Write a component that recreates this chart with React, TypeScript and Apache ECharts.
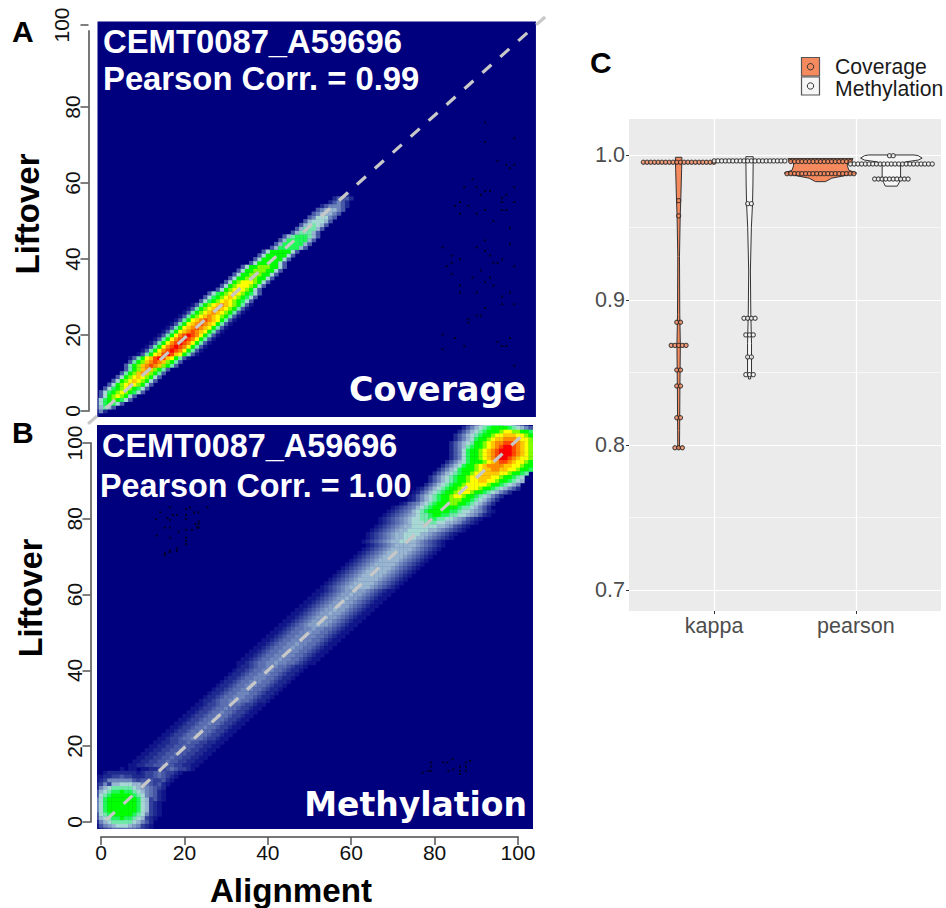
import React, { useEffect, useRef } from "react";
import * as echarts from "echarts";

const levelKeys = "0g1h2i3j456789abcde";
const levelColors = ["#00007f","#10158a","#1f2a90","#33419b","#4658a6","#5b6fb1","#6f86bc","#849ec6","#98b6d0","#a8d8d4","#70e8a8","#20f858","#00ff00","#80ff00","#ffff00","#ffc800","#ff8c00","#ff4800","#ff0000"];

const sym = (side: string, mid: string) => side + mid + side.split("").reverse().join("");

// y, first x, density levels
const covRows: [number, number, string][] = [
[-1,-9,sym("00000000","g")],[0,-8,sym("00000001","3")],[1,-7,sym("00000024","6")],[2,-6,sym("00000257","8")],
[3,-5,sym("00002578","9")],[4,-4,sym("00002589","a")],[5,-3,sym("00025789","a")],[6,-2,sym("00025789","a")],
[7,-1,sym("0002589a","b")],[8,0,sym("0002589a","b")],[9,1,sym("0002589a","b")],[10,2,sym("0002689b","c")],
[11,3,sym("0002689b","c")],[12,4,sym("002689bc","d")],[13,5,sym("002689bc","d")],[14,6,sym("0g268abd","e")],
[15,8,sym("0g268abd","e")],[16,9,sym("0g268acd","e")],[17,10,sym("0g268acd","e")],[18,11,sym("0g268acd","e")],
[19,12,sym("0g268acd","e")],[20,13,sym("0g268acd","e")],[21,14,sym("0g268abc","d")],[22,15,sym("0g268abc","d")],
[23,16,sym("0g268abc","d")],[24,17,sym("0g268abc","d")],[25,18,sym("0g2689ab","c")],[26,19,sym("0g2689ab","c")],
[27,20,sym("0g2689ab","c")],[28,21,sym("0g2689ab","c")],[29,22,sym("0025789a","b")],[30,23,sym("0025789a","b")],
[31,24,sym("0025789a","b")],[32,25,sym("0002589a","a")],[33,26,sym("0002589a","a")],[34,27,sym("0002589a","a")],
[35,28,sym("00025889","9")],[36,29,sym("00025889","9")],[37,30,sym("00025889","9")],[38,31,sym("00025889","9")],
[39,32,sym("00002588","8")],[40,33,sym("00002588","8")],[41,34,sym("00002588","8")],[42,35,sym("00002588","8")],
[43,37,sym("00002477","7")],[44,38,sym("00002477","7")],[45,39,sym("00002477","7")],[46,40,sym("00002467","7")],
[47,41,sym("00000246","6")],[48,42,sym("00000246","6")],[49,43,sym("00000245","6")],[50,44,sym("00000245","5")],
[51,45,sym("00000235","5")],[52,46,sym("00000234","4")],[53,47,sym("00000234","4")],[54,48,sym("00000123","3")],
[55,49,sym("00000012","3")],[56,50,sym("00000012","2")],[57,51,sym("00000000","1")],
];

const tailA = "0g1h2i3j44" + "4" + "44j3i2h1g0";
const tailB = "0gg1h2i3jj" + "4" + "jj3i2h1gg0";
const tailC = "0gg1h2ii33" + "j" + "33ii2h1gg0";
const tailD = "00g11h2ii3" + "3" + "3ii2h11g00";
const tailE = "00gg1hh2ii" + "3" + "ii2hh1gg00";
const tailF = "00gg11hh22" + "i" + "22hh11gg00";

const methRows: [number, number, string][] = [
[105,88,"1234556665543210"],[104,87,"12345678888765432"],[103,86,"12345678889aa998876"],
[102,85,"1234567889aabbbaa9888"],[101,85,"123457889abbcccbaa98"],[100,84,"123456889abccdddcba9"],
[99,84,"123467889abcdeedcba9"],[98,84,"12357889abcdeeedcba9"],[97,84,"12357889abcdeeedcba9"],
[96,84,"12357889abcdeedcbaa9"],[95,83,"1234578889abcddcbaa98"],[94,82,"123457889abccccbbaa988"],
[93,81,"1234578889abbccbbaa9887"],[92,80,"1234567889aabbbbaa98876"],[91,79,"1234567889aabbbaa988765"],
[90,79,"1234567889aabbaa9887654"],[89,78,"1234567889aaaaa98876543"],
[88,76,"g123456788 9aaaa98876 54321".replace(/ /g,"")],[87,75,"g1234567889aaa98876 54321".replace(/ /g,"")],
[86,74,"g1234567889aa9887654321"],[85,74,"g123456788999887654321"],
[84,72,"g12i3456788899887654321"],[83,70,"g1h2i34567888888766 54321".replace(/ /g,"")],[82,69,"g1h2i3 4567888887765 54j321g".replace(/ /g,"")],
[81,68,"g1h2i3j4566788776655 4j321g".replace(/ /g,"")],[80,66,"0g1h2i3j455667766 554j32h1g".replace(/ /g,"")],
[79,66,"0g1h2i3j4555666554 4j32h1g".replace(/ /g,"")],[78,65,"0g1h2i3j44555555 44j32h1g".replace(/ /g,"")],
[77,64,"0g1h2i3j4455555 44j3i2h1g0".replace(/ /g,"")],[76,63,"0g1h2i3j445555 44j3i2h1g0".replace(/ /g,"")],
[75,63,"0g1h2i3j44555 44j3i2h1g0".replace(/ /g,"")],[74,62,"0g1h2i3j445544j3i2h1g0"],
[73,63,tailA],[72,62,tailA],[71,61,tailA],[70,60,tailA],[69,59,tailA],[68,58,tailA],[67,57,tailA],[66,56,tailA],
[65,55,tailA],[64,54,tailA],[63,53,tailA],[62,52,tailA],
[61,51,tailB],[60,50,tailB],[59,49,tailB],[58,48,tailB],[57,47,tailB],[56,46,tailB],[55,45,tailB],[54,44,tailB],[53,43,tailB],[52,42,tailB],
[51,41,tailC],[50,40,tailC],[49,39,tailC],[48,38,tailC],[47,37,tailC],[46,36,tailC],[45,35,tailC],[44,34,tailC],[43,33,tailC],[42,32,tailC],
[41,31,tailD],[40,30,tailD],[39,29,tailD],[38,28,tailD],[37,27,tailD],[36,26,tailD],[35,25,tailD],[34,24,tailD],[33,23,tailD],[32,22,tailD],
[31,21,tailE],[30,20,tailE],[29,19,tailE],[28,18,tailE],[27,17,tailE],[26,16,tailE],[25,15,tailE],[24,14,tailE],[23,13,tailE],[22,12,tailE],
[21,11,tailF],[20,10,tailF],[19,9,tailF],[18,8,tailF],[17,7,tailF],[16,6,tailF],[15,5,tailF],
[14,4,"0g0gg0gg11hh2i2hh1g"],[13,1,"g1111111g1hh2i2hh1g"],[12,-1,"gg11hh2hh111hh2i2h1g"],[11,-1,"g1h3333332h222hh21g"],[10,-1,"1h3h44555443i2h21g"],
[9,-1,"13456666654j3i2h1"],[8,-1,"2456778776543i21g"],[7,-1,"2567888887653i21g"],[6,-1,"3578888888754h21g"],
[5,-1,"3578888888754h1g"],[4,-1,"3578888888754h1g"],[3,-1,"3578888888754h1g"],[2,-1,"2567888887653h1g"],
[1,-1,"245677877654h1g"],[0,-1,"13456666654321"],[-1,-1,"g23j45554j3h1g"],[-2,-1,"g1h2iiiiii2h1g"],
];

const speckleA: [number, number][] = [[92.1,75.9],[99.1,71.8],[101.3,71.8],[92.1,70.8],[101.3,67],[95.1,65.8],[97.2,64.8],[99.1,64.8],[98.1,63.9],[89.1,61],[87.1,58.9],[90.1,58.9],[99.1,58.9],[92.1,57.9],[93.3,57.9],[91.1,56.9],[97.2,56.9],[101.3,56.9],[96.2,56],[101.3,56],[86.1,55],[96.2,55],[99.1,55],[84.9,54],[88.1,54],[100.3,54],[92.1,52.9],[96.2,52.9],[97.2,52.9],[86.1,51.9],[90.1,51.9],[94.1,50],[101.3,50],[101.3,49],[98.1,48.1],[101.3,47],[92.1,44.9],[81.9,43.1],[90.1,43.1],[98.1,44],[92.1,42.1],[84.1,40.9],[93.3,40.9],[86.1,39.9],[96.2,39.9],[84.1,39],[94.1,39],[95.1,39],[82.9,38.1],[99.1,38.1],[91.1,37],[84.1,36.1],[89.1,35.1],[93.3,35.1],[92.1,33.9],[86.1,33],[94.1,33],[86.1,31.2],[90.1,31.2],[98.1,31.2],[96.2,30.1],[96.2,28.1],[99.1,28.1],[92.1,27.1],[90.1,25.1],[91.1,25.1],[88.1,24.2],[88.1,23.3],[81.9,20.1],[84.9,19.2],[98.1,19.2],[95.1,18.2],[87.1,17.1],[96.2,17.1],[97.2,17.1],[81.9,16.3],[100.3,16.3],[100.3,15],[101.3,13],[99.1,11.9]];
const speckleB: [number, number][] = [[16.5,83],[20.4,82.6],[21.4,83],[25.5,83],[14.2,81.7],[17.2,81],[18.2,81],[20.4,81],[22.3,81.7],[23.4,81.7],[13.2,79.9],[15.9,80.2],[16.5,79.7],[20.4,79.9],[23.4,79.3],[22.6,78.6],[23.4,78.6],[15.3,77.7],[16.5,77.7],[23,77.7],[23.4,77.7],[20.4,77.1],[21.8,77.1],[18.6,76.6],[13.4,75.6],[16.5,75],[20.4,75],[20.4,74.1],[20.4,73.3],[18.2,72.2],[18.2,71.5],[16.5,71.6],[16.5,71.2],[15.3,70.9],[15.3,70.4],[84.3,16.6],[88.5,16.1],[79.1,15.7],[82.1,15.7],[83.1,15.7],[87.5,15.7],[79.1,14.6],[86.1,14.6],[87.5,14.6],[78.5,13.5],[79.1,13.5],[83.3,13.5],[84.5,13.9],[86.1,13.5],[87.5,13.5],[77.1,13],[86.1,12.7]];

const diagA = [-3.1, -3.4, 106.5, 103.7];
const diagB = [1.2, 0.5, 101, 102];
const panelA = [-0.84, -1.58, 104.3, 102.5];
const panelB = [-0.96, -1.85, 103.6, 104.75];

const axisTicksA = [0, 20, 40, 60, 80];
const violinCategories = ["kappa", "pearson"];
const majorTicksC = [0.7, 0.8, 0.9, 1.0];
const minorTicksC = [0.75, 0.85, 0.95];

// value, half width of the violin
const kappaCovShape = [[0.9984,0.023],[0.99,0.021],[0.9685,0.015],[0.958,0.011],[0.93,0.006],[0.89,0.008],[0.8687,0.012],[0.84,0.009],[0.81,0.007],[0.7975,0.006]];
const kappaMethShape = [[0.9988,0.026],[0.98,0.024],[0.9664,0.021],[0.95,0.013],[0.92,0.006],[0.89,0.009],[0.87,0.014],[0.85,0.014],[0.8455,0.007]];
const pearsonCovShape = [[0.9975,0.23],[0.9958,0.22],[0.9945,0.19],[0.9925,0.19],[0.9895,0.2],[0.9875,0.255],[0.9855,0.16],[0.984,0.08],[0.9816,0.035]];
const pearsonMethShape = [[1.0,0.16],[0.9995,0.19],[0.9978,0.217],[0.9965,0.19],[0.9952,0.1],[0.9938,0.065],[0.984,0.065],[0.981,0.055],[0.9785,0.042]];

// value, number of stacked dots
const kappaCovDots = [[0.995,20],[0.9685,1],[0.958,1],[0.8846,2],[0.8687,5],[0.8517,2],[0.8407,2],[0.8188,2],[0.7981,3]];
const kappaMethDots = [[0.9959,20],[0.9664,2],[0.8874,4],[0.8759,3],[0.8607,2],[0.8485,3]];
const pearsonCovDots = [[0.9955,17],[0.9871,19]];
const pearsonMethDots = [[0.9995,2],[0.9938,23],[0.9834,10]];

const coverColor = "#f58a5f";
const methColor = "#f6f6f6";
const FONT = "Liberation Sans";
const dotStep = 0.0262;

function cells(rows: [number, number, string][]) {
  const out: number[][] = [];
  rows.forEach(([y, x0, s]) => {
    for (let i = 0; i < s.length; i++) {
      const l = levelKeys.indexOf(s[i]);
      if (l > 0) out.push([x0 + i, y, l]);
    }
  });
  return out;
}

function stack(center: number, bins: number[][]) {
  const out: number[][] = [];
  bins.forEach(([v, n]) => {
    for (let i = 0; i < n; i++) out.push([center + (i - (n - 1) / 2) * dotStep, v]);
  });
  return out;
}

function densitySeries(rows: [number, number, string][], panel: number[], idx: number) {
  const clip = (api: any, r: any) => {
    const a = api.coord([panel[0], panel[3]]);
    const b = api.coord([panel[2], panel[1]]);
    return echarts.graphic.clipRectByRect(r, { x: a[0], y: a[1], width: b[0] - a[0], height: b[1] - a[1] });
  };
  return [
    {
      type: "custom", xAxisIndex: idx, yAxisIndex: idx, silent: true, z: 1,
      data: [panel],
      renderItem: (_: any, api: any) => {
        const a = api.coord([api.value(0), api.value(3)]);
        const b = api.coord([api.value(2), api.value(1)]);
        return { type: "rect", shape: { x: a[0], y: a[1], width: b[0] - a[0], height: b[1] - a[1] }, style: { fill: levelColors[0] } };
      },
    },
    {
      type: "custom", xAxisIndex: idx, yAxisIndex: idx, silent: true, z: 2,
      data: cells(rows),
      renderItem: (_: any, api: any) => {
        const x = api.value(0), y = api.value(1);
        const a = api.coord([x - 0.5, y + 0.5]);
        const b = api.coord([x + 0.5, y - 0.5]);
        const r = clip(api, { x: a[0], y: a[1], width: b[0] - a[0] + 0.4, height: b[1] - a[1] + 0.4 });
        if (!r) return null;
        return { type: "rect", shape: r, style: { fill: levelColors[api.value(2)] } };
      },
    },
  ];
}

function violinSeries(center: number, shape: number[][], fill: string) {
  return {
    type: "custom", xAxisIndex: 2, yAxisIndex: 2, silent: true, z: 3,
    data: shape,
    renderItem: (p: any, api: any) => {
      if (p.dataIndex !== 0) return null;
      const pts = shape.map(([v, w]) => api.coord([center - w, v]))
        .concat(shape.slice().reverse().map(([v, w]) => api.coord([center + w, v])));
      return { type: "polygon", shape: { points: pts }, style: { fill, stroke: "#333", lineWidth: 1 } };
    },
  };
}

function dots(data: number[][], fill: string) {
  return {
    type: "scatter", xAxisIndex: 2, yAxisIndex: 2, silent: true, z: 4, symbolSize: 4.2, data,
    itemStyle: { color: fill, borderColor: "#222", borderWidth: 1.1 },
  };
}

function diagSeries(seg: number[], idx: number) {
  return {
    type: "custom", xAxisIndex: idx, yAxisIndex: idx, silent: true, z: 5,
    data: [seg],
    renderItem: (_: any, api: any) => {
      const a = api.coord([api.value(0), api.value(1)]);
      const b = api.coord([api.value(2), api.value(3)]);
      return { type: "line", shape: { x1: a[0], y1: a[1], x2: b[0], y2: b[1] }, style: { stroke: "#c8c8c8", lineWidth: 3.2, lineDash: [12, 12] } };
    },
  };
}

function speckles(data: [number, number][], idx: number) {
  return {
    type: "scatter", xAxisIndex: idx, yAxisIndex: idx, symbol: "rect", symbolSize: 2, data, silent: true, z: 4,
    itemStyle: { color: "#000010" },
  };
}

const txt = (text: string, x: number, y: number, size: number, extra: any = {}) => ({
  type: "text", x, y, z: 100, silent: true,
  style: { text, fontSize: size, fontFamily: FONT, fontWeight: "bold", fill: "#000", align: "left", verticalAlign: "middle", ...extra.style },
  ...(extra.rotation ? { rotation: extra.rotation } : {}),
});

export default function App() {
  const ref = useRef<HTMLDivElement>(null);
  useEffect(() => {
    const chart = echarts.init(ref.current!, null, { renderer: "svg" });
    const leftAxis = (grid: number, offset: number, ticks?: number[]) => ({
      type: "value", gridIndex: grid, min: 0, max: 100, interval: 20, offset,
      axisLine: { show: true, onZero: false, lineStyle: { color: "#777", width: 2 } },
      axisTick: { show: true, length: 8, lineStyle: { color: "#555", width: 1.5 }, ...(ticks ? { customValues: ticks } : {}) },
      axisLabel: { rotate: 90, fontSize: 21, fontFamily: FONT, color: "#111", margin: 6, ...(ticks ? { customValues: ticks } : {}) },
      splitLine: { show: false },
    });
    const C = (extra: any) => ({
      type: "value", gridIndex: 2, min: 0.6855, max: 1.0248,
      axisLine: { show: false, onZero: false }, ...extra,
    });
    chart.setOption({
      animation: false,
      grid: [
        { left: 101, top: 31, width: 417, height: 380 },
        { left: 101, top: 443, width: 417, height: 379 },
        { left: 629, top: 119, width: 312, height: 492, backgroundColor: "#ebebeb", show: true, borderWidth: 0 },
      ],
      xAxis: [
        { type: "value", gridIndex: 0, min: 0, max: 100, show: false },
        {
          type: "value", gridIndex: 1, min: 0, max: 100, interval: 20, offset: 15,
          axisLine: { show: true, onZero: false, lineStyle: { color: "#777", width: 2 } },
          axisTick: { length: 8, lineStyle: { color: "#555", width: 1.5 } },
          axisLabel: { fontSize: 21, fontFamily: FONT, color: "#111", margin: 5 },
          splitLine: { show: false },
        },
        {
          type: "value", gridIndex: 2, min: -0.6, max: 1.6,
          axisLine: { show: false, onZero: false },
          axisTick: { show: true, length: 3, lineStyle: { color: "#333" }, customValues: [0, 1] },
          axisLabel: {
            customValues: [0, 1], fontSize: 21.5, fontFamily: FONT, color: "#4d4d4d", margin: 4,
            formatter: (v: number) => violinCategories[Math.round(v)],
          },
          splitLine: { show: true, lineStyle: { color: "#fff", width: 1.2 } },
        },
      ],
      yAxis: [
        leftAxis(0, 12.5, axisTicksA),
        leftAxis(1, 10.5),
        C({
          axisTick: { show: true, length: 3, lineStyle: { color: "#333" }, customValues: majorTicksC },
          axisLabel: { customValues: majorTicksC, fontSize: 21.5, fontFamily: FONT, color: "#4d4d4d", margin: 4, formatter: (v: number) => v.toFixed(1) },
          splitLine: { show: true, lineStyle: { color: "#fff", width: 1.2 } },
        }),
        C({
          axisTick: { show: false, customValues: minorTicksC },
          axisLabel: { show: false, customValues: minorTicksC },
          splitLine: { show: true, lineStyle: { color: "#fff", width: 0.6 } },
        }),
      ],
      series: [
        ...densitySeries(covRows, panelA, 0),
        speckles(speckleA, 0),
        diagSeries(diagA, 0),
        ...densitySeries(methRows, panelB, 1),
        speckles(speckleB, 1),
        diagSeries(diagB, 1),
        violinSeries(-0.25, kappaCovShape, coverColor),
        violinSeries(0.25, kappaMethShape, methColor),
        violinSeries(0.75, pearsonCovShape, coverColor),
        violinSeries(1.25, pearsonMethShape, methColor),
        dots(stack(-0.25, kappaCovDots), coverColor),
        dots(stack(0.25, kappaMethDots), methColor),
        dots(stack(0.75, pearsonCovDots), coverColor),
        dots(stack(1.25, pearsonMethDots), methColor),
      ],
      graphic: [
        txt("A", 12, 31, 30),
        txt("B", 12, 432, 30),
        txt("C", 590, 62, 30),
        txt("CEMT0087_A59696", 103, 41, 32.8, { style: { fill: "#fff" } }),
        txt("Pearson Corr. = 0.99", 103, 78, 32.8, { style: { fill: "#fff" } }),
        txt("CEMT0087_A59696", 102, 446, 32.4, { style: { fill: "#fff" } }),
        txt("Pearson Corr. = 1.00", 100, 486, 32.3, { style: { fill: "#fff" } }),
        txt("Coverage", 526, 389, 33.3, { style: { fill: "#fff", fontFamily: "DejaVu Sans", align: "right" } }),
        txt("Methylation", 527, 804, 33, { style: { fill: "#fff", fontFamily: "DejaVu Sans", align: "right" } }),
        txt("Liftover", 27, 214, 33, { rotation: Math.PI / 2, style: { align: "center" } }),
        txt("Liftover", 31, 598, 32.3, { rotation: Math.PI / 2, style: { align: "center" } }),
        txt("Alignment", 291, 890.5, 33.2, { style: { align: "center" } }),
        { type: "line", z: 100, silent: true, shape: { x1: 80.5, y1: 25, x2: 88.5, y2: 25 }, style: { stroke: "#555", lineWidth: 1.5 } },
        txt("100", 61.5, 25, 21, { rotation: Math.PI / 2, style: { align: "center", fontWeight: "normal", fill: "#111" } }),
        { type: "rect", z: 100, silent: true, shape: { x: 801.5, y: 57.5, width: 18, height: 18.5 }, style: { fill: coverColor, stroke: "#555", lineWidth: 1.2 } },
        { type: "circle", z: 101, silent: true, shape: { cx: 810.5, cy: 66.7, r: 3.2 }, style: { fill: coverColor, stroke: "#333", lineWidth: 1 } },
        { type: "rect", z: 100, silent: true, shape: { x: 801.5, y: 77, width: 18, height: 18 }, style: { fill: methColor, stroke: "#555", lineWidth: 1.2 } },
        { type: "circle", z: 101, silent: true, shape: { cx: 810.5, cy: 86, r: 3.2 }, style: { fill: methColor, stroke: "#333", lineWidth: 1 } },
        txt("Coverage", 835, 66, 21.2, { style: { fontWeight: "normal", fill: "#1a1a1a" } }),
        txt("Methylation", 835, 88, 21.2, { style: { fontWeight: "normal", fill: "#1a1a1a" } }),
      ],
    });
    return () => chart.dispose();
  }, []);
  return <div ref={ref} style={{ position: "absolute", left: 0, top: 0, width: 946, height: 908 }} />;
}
